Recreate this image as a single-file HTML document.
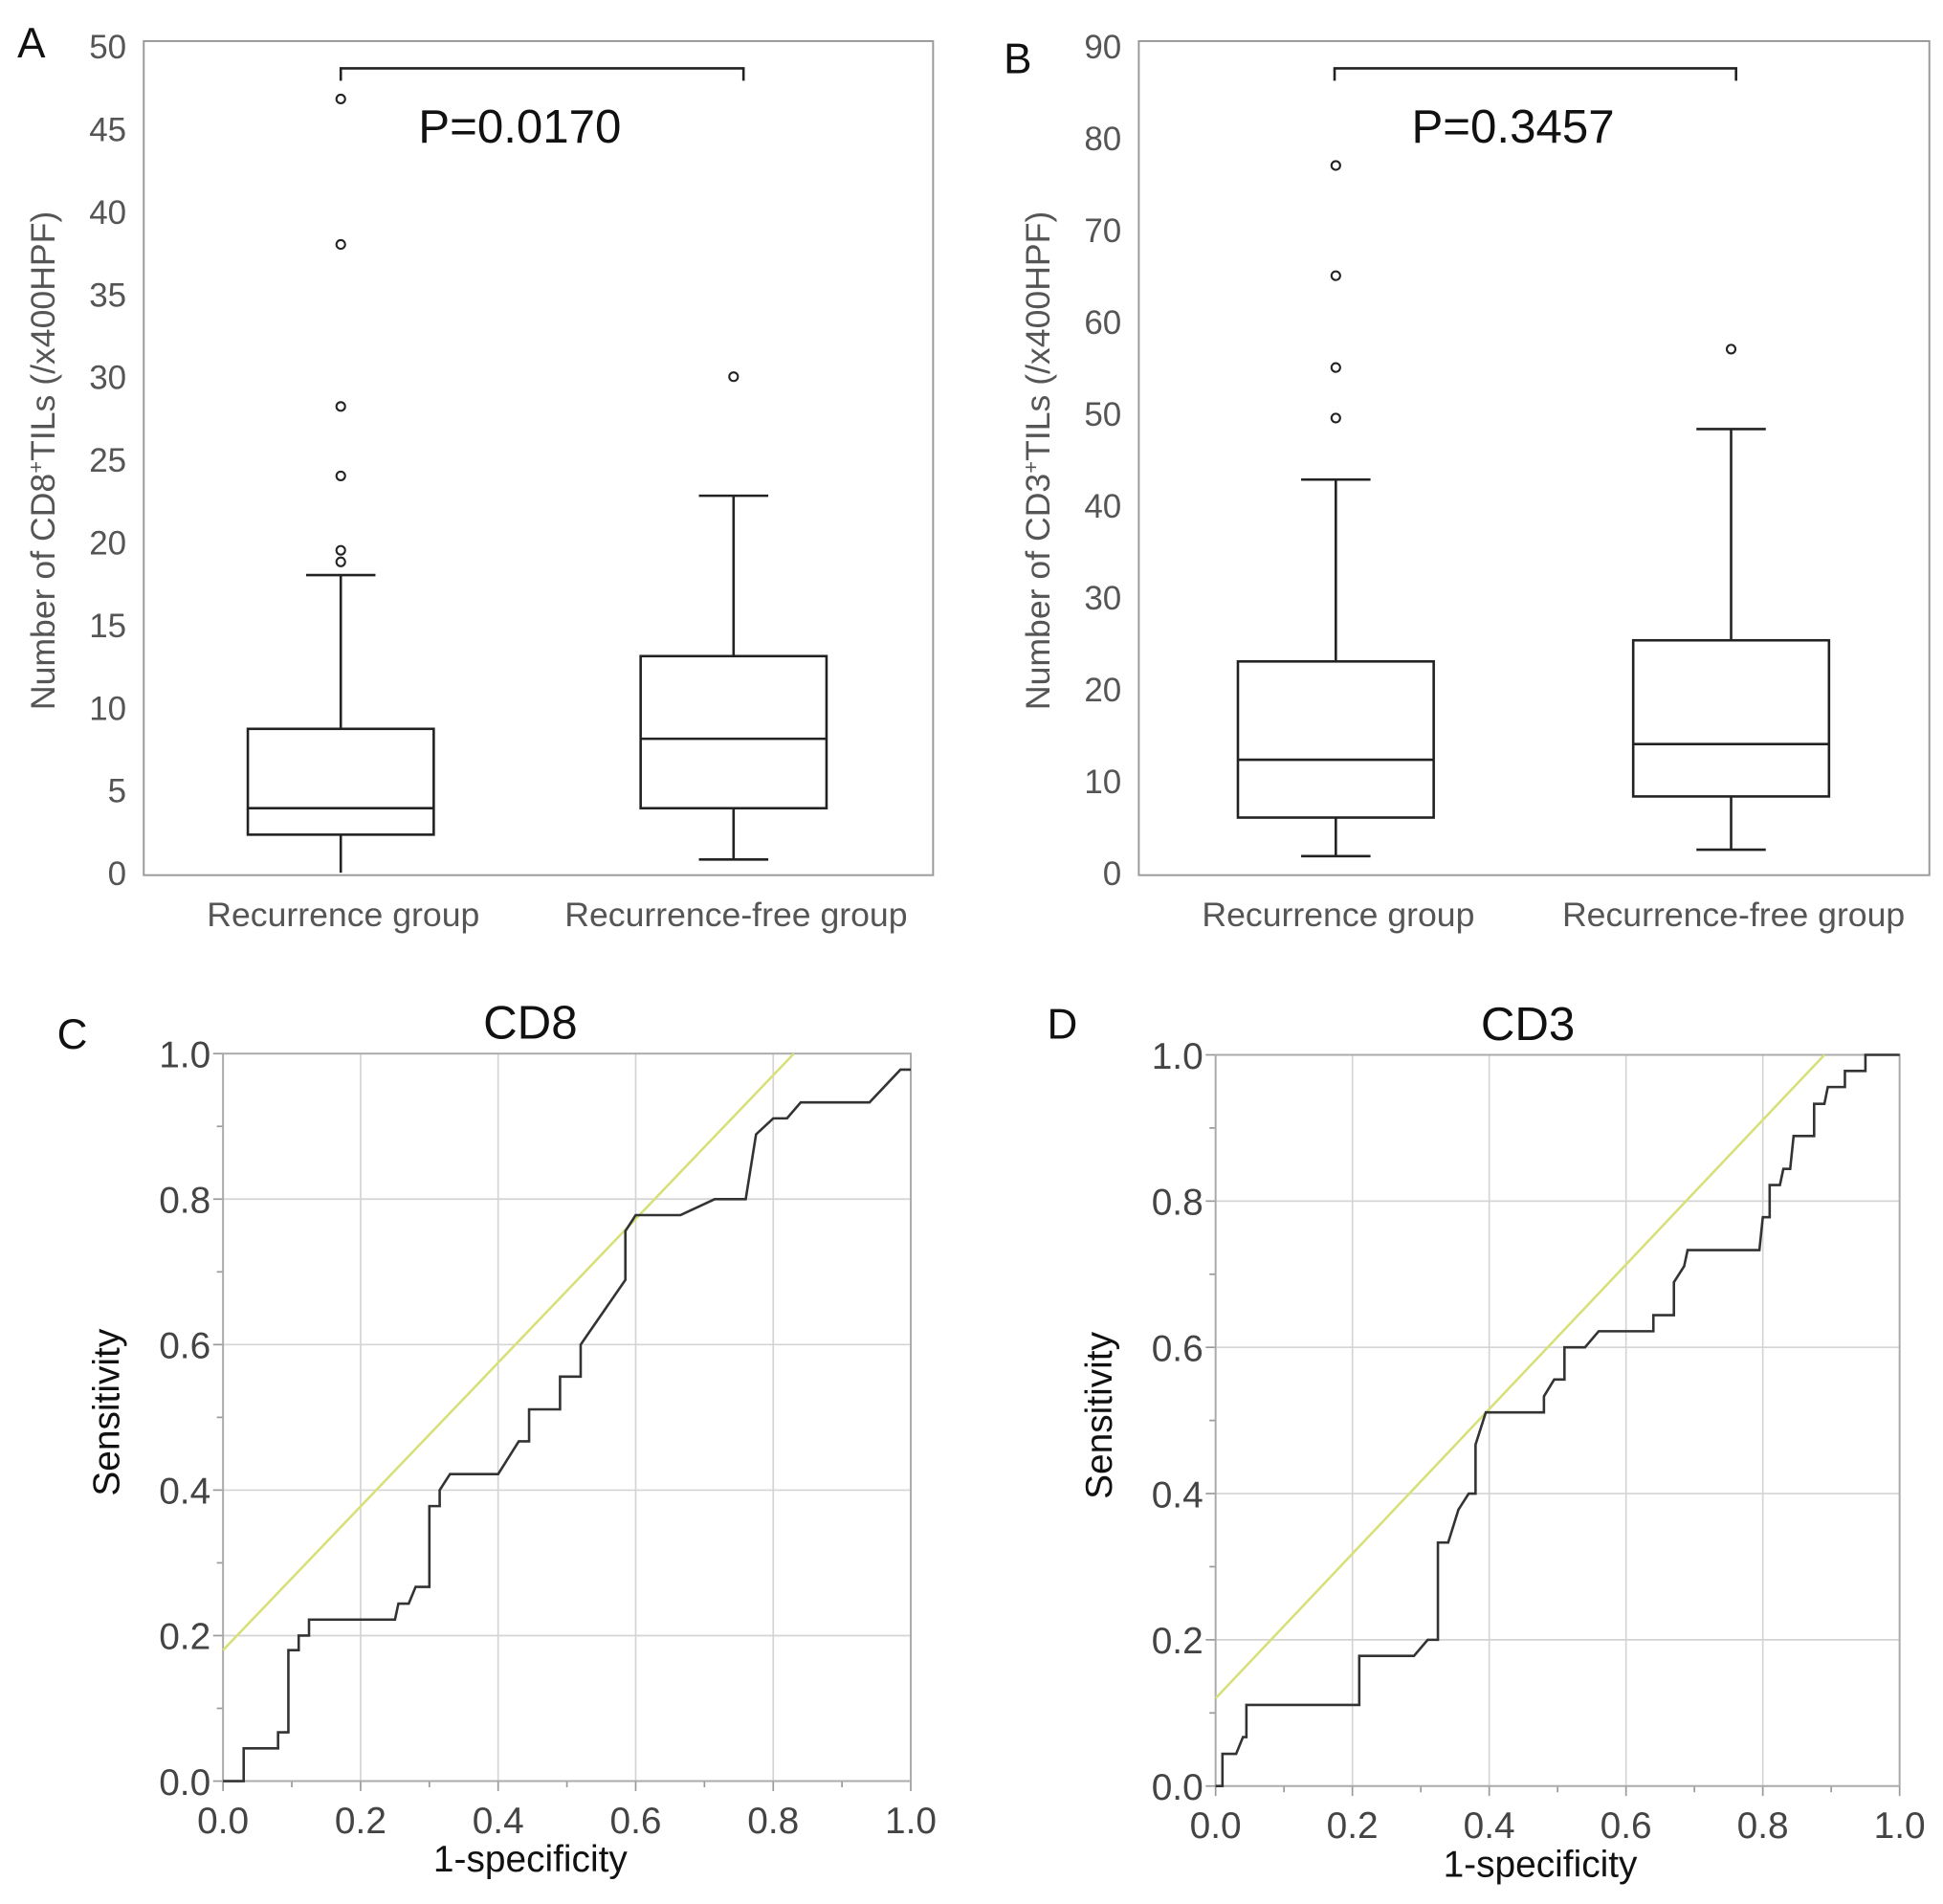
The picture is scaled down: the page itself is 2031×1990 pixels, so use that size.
<!DOCTYPE html>
<html><head><meta charset="utf-8"><style>
html,body{margin:0;padding:0;background:#fff}
svg{display:block;font-family:"Liberation Sans",Arial,sans-serif}
</style></head><body>
<svg id="fig" width="2031" height="1990" viewBox="0 0 1568 1536" xmlns="http://www.w3.org/2000/svg">
<rect width="1568" height="1536" fill="#fff"/>
<text x="14" y="46" font-size="34" fill="#111">A</text>
<text x="810" y="59" font-size="34" fill="#111">B</text>
<text x="46" y="846" font-size="34" fill="#111">C</text>
<text x="845" y="838" font-size="34" fill="#111">D</text>
<g id="gA"></g>
<g id="gB"></g>
<g id="gC"></g>
<g id="gD"></g>
</svg>
<script>
// ---- Panel A data (CD8 box plot) ----
const catsA = ["Recurrence group", "Recurrence-free group"];
const q1A = [2.3, 3.9];
const medA = [3.9, 8.1];
const q3A = [8.7, 13.1];
const loA = [0, 0.8];
const hiA = [18, 22.8];
const outA = [[46.8, 38, 28.2, 24, 19.5, 18.8], [30]];
const ticksA = [0, 5, 10, 15, 20, 25, 30, 35, 40, 45, 50];
// ---- Panel B data (CD3 box plot) ----
const catsB = ["Recurrence group", "Recurrence-free group"];
const q1B = [6, 8.3];
const medB = [12.3, 14];
const q3B = [23, 25.3];
const loB = [1.8, 2.5];
const hiB = [42.8, 48.3];
const outB = [[77, 65, 55, 49.5], [57]];
const ticksB = [0, 10, 20, 30, 40, 50, 60, 70, 80, 90];
// ---- Panel C ROC (CD8) ----
const rocCx = [0,0.03,0.03,0.08,0.08,0.095,0.095,0.11,0.11,0.125,0.125,0.25,0.255,0.27,0.28,0.3,0.3,0.315,0.315,0.33,0.4,0.43,0.445,0.445,0.49,0.49,0.52,0.52,0.585,0.585,0.6,0.665,0.715,0.76,0.775,0.8,0.82,0.84,0.94,0.985,1];
const rocCy = [0,0,0.045,0.045,0.067,0.067,0.18,0.18,0.2,0.2,0.222,0.222,0.244,0.244,0.267,0.267,0.378,0.378,0.4,0.422,0.422,0.467,0.467,0.511,0.511,0.556,0.556,0.6,0.689,0.756,0.778,0.778,0.8,0.8,0.889,0.911,0.911,0.933,0.933,0.978,0.978];
const refCx = [0, 0.83];
const refCy = [0.18, 1.0];
// ---- Panel D ROC (CD3) ----
const rocDx = [0,0.01,0.01,0.03,0.04,0.045,0.045,0.21,0.21,0.29,0.31,0.325,0.325,0.34,0.355,0.37,0.38,0.38,0.395,0.48,0.48,0.495,0.51,0.51,0.54,0.56,0.64,0.64,0.67,0.67,0.685,0.69,0.795,0.8,0.81,0.81,0.825,0.83,0.84,0.845,0.875,0.875,0.89,0.895,0.92,0.92,0.95,0.95,1];
const rocDy = [0,0,0.044,0.044,0.067,0.067,0.111,0.111,0.178,0.178,0.2,0.2,0.333,0.333,0.378,0.4,0.4,0.467,0.511,0.511,0.533,0.556,0.556,0.6,0.6,0.622,0.622,0.644,0.644,0.689,0.711,0.733,0.733,0.778,0.778,0.822,0.822,0.844,0.844,0.889,0.889,0.933,0.933,0.956,0.956,0.978,0.978,1,1];
const refDx = [0, 0.89];
const refDy = [0.12, 1.0];
const rocTicks = [0, 0.2, 0.4, 0.6, 0.8, 1.0];

const NS = "http://www.w3.org/2000/svg";
function mk(parent, tag, attrs, text) {
  const e = document.createElementNS(NS, tag);
  for (const k in attrs) e.setAttribute(k, attrs[k]);
  if (text !== undefined) e.textContent = text;
  parent.appendChild(e);
  return e;
}

function boxPanel(g, o) {
  const y = v => o.y0 + (o.y1 - o.y0) * (v - o.ymin) / (o.ymax - o.ymin);
  let e = mk(g, "rect", {x:o.L, y:o.T, width:o.R-o.L, height:o.B-o.T, fill:"none", stroke:"#999", "stroke-width":1.5});
  
  
  o.ticks.forEach(t => {
    e = mk(g, "text", {x:o.L-14, y:y(t)+10, "font-size":27, fill:"#555", "text-anchor":"end"}, t);
    
    
  });
  e = mk(g, "text", {transform:`translate(${o.L-72},${(o.T+o.B)/2+2}) rotate(-90)`, "font-size":27.5, fill:"#555", "text-anchor":"middle"});
  e.innerHTML = o.ytitle;
  
  
  o.cats.forEach((c, i) => {
    const cx = o.cx[i], hw = o.hw;
    const bg = mk(g, "g", {stroke:"#222", "stroke-width":2, fill:"none"});
    
    
    mk(bg, "line", {x1:cx, x2:cx, y1:y(o.hi[i]), y2:y(o.q3[i])});
    mk(bg, "line", {x1:cx, x2:cx, y1:y(o.q1[i]), y2:y(o.lo[i])});
    mk(bg, "line", {x1:cx-28, x2:cx+28, y1:y(o.hi[i]), y2:y(o.hi[i])});
    if (o.lo[i] > 0.5) mk(bg, "line", {x1:cx-28, x2:cx+28, y1:y(o.lo[i]), y2:y(o.lo[i])});
    mk(bg, "rect", {x:cx-hw, y:y(o.q3[i]), width:2*hw, height:y(o.q1[i])-y(o.q3[i]), fill:"#fff"});
    mk(bg, "line", {x1:cx-hw, x2:cx+hw, y1:y(o.med[i]), y2:y(o.med[i])});
    o.out[i].forEach(v => {
      const p = mk(bg, "circle", {cx:cx, cy:y(v), r:3.5, "stroke-width":1.6});
      
      
    });
    e = mk(g, "text", {x:cx+2, y:o.B+41, "font-size":27.5, fill:"#555", "text-anchor":"middle"}, c);
    
    
  });
  e = mk(g, "path", {d:`M${o.bx1},65 V55 H${o.bx2} V65`, fill:"none", stroke:"#222", "stroke-width":2});
  
  
  e = mk(g, "text", {x:(o.bx1+o.bx2)/2-18, y:115, "font-size":38, fill:"#111", "text-anchor":"middle"}, o.p);
  
  
}

boxPanel(document.getElementById("gA"), {L:116,R:753,T:33,B:706,y0:704,y1:37,ymin:0,ymax:50,ticks:ticksA,
  cats:catsA,cx:[275,592],hw:75,q1:q1A,med:medA,q3:q3A,lo:loA,hi:hiA,out:outA,bx1:275,bx2:600,p:"P=0.0170",
  ytitle:'Number of CD8<tspan baseline-shift="super" font-size="17">+</tspan>TILs (/x400HPF)'});
boxPanel(document.getElementById("gB"), {L:919,R:1557,T:33,B:706,y0:704,y1:37,ymin:0,ymax:90,ticks:ticksB,
  cats:catsB,cx:[1078,1397],hw:79,q1:q1B,med:medB,q3:q3B,lo:loB,hi:hiB,out:outB,bx1:1077,bx2:1401,p:"P=0.3457",
  ytitle:'Number of CD3<tspan baseline-shift="super" font-size="17">+</tspan>TILs (/x400HPF)'});

function rocPanel(g, o) {
  const X = v => o.L + (o.R - o.L) * v;
  const Y = v => o.B - (o.B - o.T) * v;
  let e;
  rocTicks.forEach(t => {
    e = mk(g, "line", {x1:X(t), x2:X(t), y1:o.T, y2:o.B, stroke:"#d4d4d4", "stroke-width":1.3});
    
    
    e = mk(g, "line", {x1:o.L, x2:o.R, y1:Y(t), y2:Y(t), stroke:"#d4d4d4", "stroke-width":1.3});
    
    
    e = mk(g, "text", {x:X(t), y:o.B+42, "font-size":30, fill:"#444", "text-anchor":"middle"}, t.toFixed(1));
    
    
    e = mk(g, "text", {x:o.L-10, y:Y(t)+11, "font-size":30, fill:"#444", "text-anchor":"end"}, t.toFixed(1));
    
    
  });
  for (let i = 0; i <= 10; i++) {
    const t = i / 10;
    mk(g, "line", {x1:X(t), x2:X(t), y1:o.B, y2:o.B+(i%2?5:8), stroke:"#999", "stroke-width":1.3});
    mk(g, "line", {x1:o.L, x2:o.L-(i%2?5:8), y1:Y(t), y2:Y(t), stroke:"#999", "stroke-width":1.3});
  }
  e = mk(g, "rect", {x:o.L, y:o.T, width:o.R-o.L, height:o.B-o.T, fill:"none", stroke:"#aaa", "stroke-width":1.5});
  
  
  e = mk(g, "line", {x1:X(o.rx[0]), y1:Y(o.ry[0]), x2:X(o.rx[1]), y2:Y(o.ry[1]), stroke:"#d8e07a", "stroke-width":2});
  
  
  e = mk(g, "polyline", {points:o.xs.map((v,i)=>X(v)+","+Y(o.ys[i])).join(" "), fill:"none", stroke:"#333", "stroke-width":2});
  
  
  e = mk(g, "text", {x:o.tx, y:o.T-12, "font-size":38, fill:"#111", "text-anchor":"middle"}, o.title);
  
  
  e = mk(g, "text", {x:o.xt, y:o.B+73, "font-size":30, fill:"#111", "text-anchor":"middle"}, "1-specificity");
  
  
  e = mk(g, "text", {transform:`translate(${o.L-84},${(o.T+o.B)/2-4}) rotate(-90)`, "font-size":30, fill:"#111", "text-anchor":"middle"}, "Sensitivity");
  
  
}
rocPanel(document.getElementById("gC"), {L:180,R:735,T:850,B:1437,xs:rocCx,ys:rocCy,rx:refCx,ry:refCy,title:"CD8",tx:428,xt:428});
rocPanel(document.getElementById("gD"), {L:981,R:1533,T:851,B:1441,xs:rocDx,ys:rocDy,rx:refDx,ry:refDy,title:"CD3",tx:1233,xt:1243});
</script>
</body></html>
